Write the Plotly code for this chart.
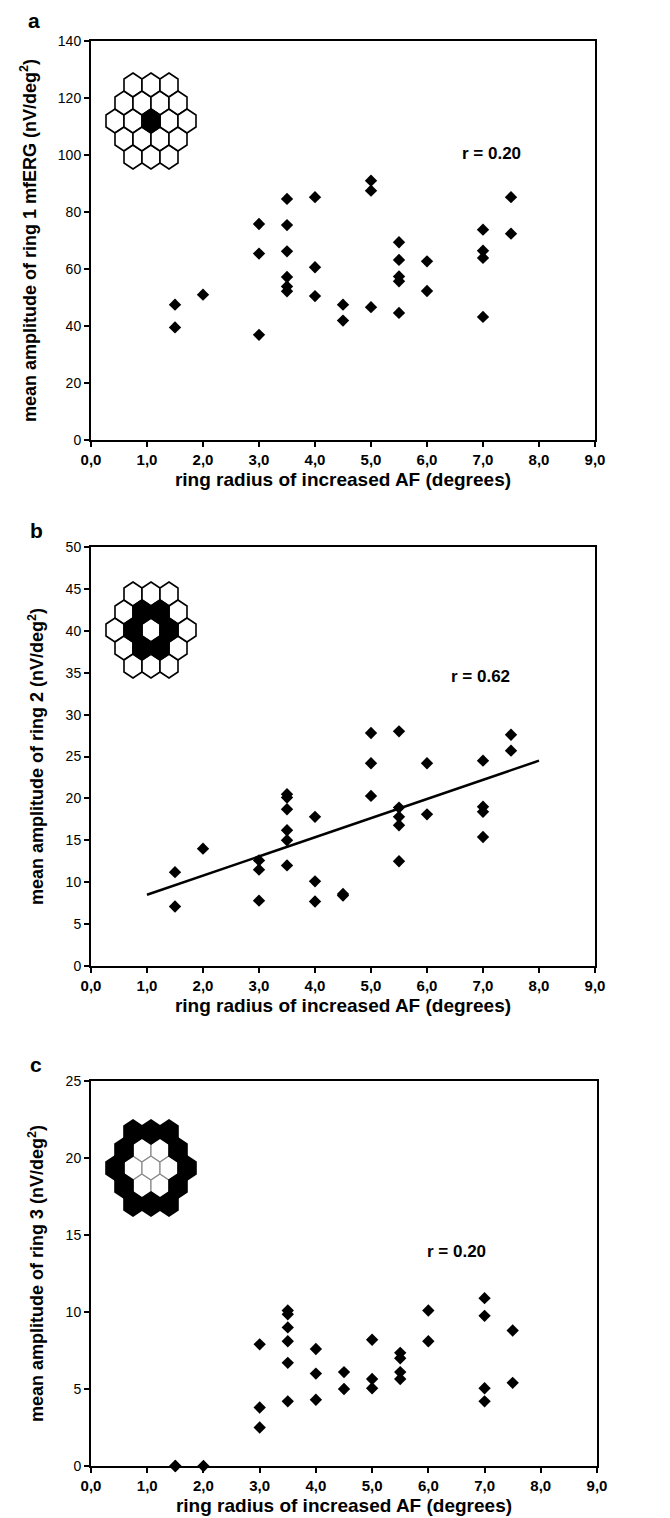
import plotly.graph_objects as go

# ---------------- data ----------------
x_a = [1.5, 1.5, 2.0, 3.0, 3.0, 3.0, 3.5, 3.5, 3.5, 3.5, 3.5, 3.5, 4.0, 4.0, 4.0,
       4.5, 4.5, 5.0, 5.0, 5.0, 5.5, 5.5, 5.5, 5.5, 5.5, 6.0, 6.0, 7.0, 7.0, 7.0, 7.0, 7.5, 7.5]
y_a = [47.5, 39.5, 51.0, 75.8, 65.4, 36.9, 84.6, 75.4, 66.2, 57.2, 53.9, 52.2, 85.2, 60.6, 50.5,
       47.5, 41.9, 91.0, 87.5, 46.6, 69.4, 63.2, 57.4, 55.7, 44.6, 62.7, 52.3, 73.8, 66.4, 63.9, 43.2, 85.2, 72.4]

x_b = [1.5, 1.5, 2.0, 3.0, 3.0, 3.0, 3.5, 3.5, 3.5, 3.5, 3.5, 3.5, 4.0, 4.0, 4.0,
       4.5, 4.5, 5.0, 5.0, 5.0, 5.5, 5.5, 5.5, 5.5, 5.5, 6.0, 6.0, 7.0, 7.0, 7.0, 7.0, 7.5, 7.5]
y_b = [11.2, 7.1, 14.0, 12.6, 11.5, 7.8, 20.5, 20.1, 18.7, 16.2, 15.0, 12.0, 17.8, 10.1, 7.7,
       8.6, 8.4, 27.8, 24.2, 20.3, 28.0, 18.9, 17.8, 16.8, 12.5, 24.2, 18.1, 24.5, 19.0, 18.4, 15.4, 27.6, 25.7]
fit_x_b = [1.0, 8.0]
fit_y_b = [8.5, 24.5]

x_c = [1.5, 1.5, 2.0, 3.0, 3.0, 3.0, 3.5, 3.5, 3.5, 3.5, 3.5, 3.5, 4.0, 4.0, 4.0,
       4.5, 4.5, 5.0, 5.0, 5.0, 5.5, 5.5, 5.5, 5.5, 6.0, 6.0, 7.0, 7.0, 7.0, 7.0, 7.5, 7.5]
y_c = [0.0, 0.0, 0.0, 7.9, 3.8, 2.5, 10.1, 9.85, 9.0, 8.1, 6.7, 4.2, 7.6, 6.0, 4.3,
       6.1, 5.0, 8.2, 5.65, 5.05, 7.35, 7.0, 6.1, 5.65, 10.1, 8.1, 10.9, 9.75, 5.05, 4.2, 8.8, 5.4]

r_labels = ["r = 0.20", "r = 0.62", "r = 0.20"]
r_pos_x = [7.15, 6.95, 6.5]
r_pos_y = [100.5, 34.6, 13.9]
panel_letters = ["a", "b", "c"]
y_titles = ["mean amplitude of ring 1 mfERG (nV/deg<sup>2</sup>)",
            "mean amplitude of ring 2 (nV/deg<sup>2</sup>)",
            "mean amplitude of ring 3 (nV/deg<sup>2</sup>)"]
x_title = "ring radius of increased AF (degrees)"
y_ranges = [[0, 140], [0, 50], [0, 25]]
y_dticks = [20, 5, 5]

# ---------------- layout geometry (pixels) ----------------
W, H = 670, 1518
panels_px = [  # left, right, top, bottom
    (83, 587, 33, 432),
    (83, 587, 539, 958),
    (83, 589, 1073, 1458),
]
icon_centers = [(143, 113), (143, 622), (143, 1160)]
black_ring = [0, 1, 2]
letter_pos = [(26, 13), (28, 522), (28, 1056)]

FONT = "Liberation Sans, Arial, sans-serif"

def px(x):
    return x / W

def py(y):
    return 1 - y / H

fig = go.Figure()
xs = [x_a, x_b, x_c]
ys = [y_a, y_b, y_c]

for i in range(3):
    ax = "" if i == 0 else str(i + 1)
    fig.add_trace(go.Scatter(
        x=xs[i], y=ys[i], mode="markers",
        marker=dict(symbol="diamond", size=9.5, color="black"),
        cliponaxis=False, showlegend=False,
        xaxis="x" + ax, yaxis="y" + ax))

fig.add_trace(go.Scatter(x=fit_x_b, y=fit_y_b, mode="lines",
                         line=dict(color="black", width=2.5),
                         showlegend=False, xaxis="x2", yaxis="y2"))

layout = dict(width=W, height=H, margin=dict(l=0, r=0, t=0, b=0, autoexpand=False),
              paper_bgcolor="white", plot_bgcolor="white",
              separators=",.", showlegend=False,
              font=dict(family=FONT, color="black"))

annotations = []
shapes = []
for i in range(3):
    l, r, t, b = panels_px[i]
    xk = "xaxis" if i == 0 else "xaxis%d" % (i + 1)
    yk = "yaxis" if i == 0 else "yaxis%d" % (i + 1)
    ax = "" if i == 0 else str(i + 1)
    layout[xk] = dict(domain=[px(l), px(r)], range=[0, 9], dtick=1, tick0=0,
                      tickformat=".1f", showgrid=False, zeroline=False, automargin=False,
                      showline=True, linecolor="black", linewidth=2, mirror=True,
                      ticks="outside", ticklen=5, tickwidth=1.5, tickcolor="black",
                      tickfont=dict(size=15, family=FONT, weight="bold"),
                      title=dict(text=x_title, font=dict(size=19, family=FONT, weight="bold"),
                                 standoff=6),
                      anchor="y" + ax, fixedrange=True)
    layout[yk] = dict(domain=[py(b), py(t)], range=y_ranges[i], dtick=y_dticks[i], tick0=0,
                      showgrid=False, zeroline=False, automargin=False,
                      showline=True, linecolor="black", linewidth=2, mirror=True,
                      ticks="outside", ticklen=5, tickwidth=1.5, tickcolor="black",
                      tickfont=dict(size=14, family=FONT),
                      title=dict(text=y_titles[i], font=dict(size=18, family=FONT, weight="bold"),
                                 standoff=17),
                      anchor="x" + ax, fixedrange=True)
    annotations.append(dict(text="<b>%s</b>" % r_labels[i], x=r_pos_x[i], y=r_pos_y[i],
                            xref="x" + ax, yref="y" + ax, showarrow=False,
                            xanchor="center", yanchor="middle",
                            font=dict(size=17, family=FONT, color="black")))
    lx, ly = letter_pos[i]
    annotations.append(dict(text="<b>%s</b>" % panel_letters[i], x=px(lx), y=py(ly),
                            xref="paper", yref="paper", showarrow=False,
                            xanchor="center", yanchor="middle",
                            font=dict(size=21, family=FONT, color="black")))

    # hexagonal mfERG stimulus icon
    cx, cy = icon_centers[i]
    hw = 18.0  # flat-to-flat width
    s = 12.0   # vertex radius
    cells = []
    for q in range(-2, 3):
        for rr in range(-2, 3):
            if abs(q + rr) > 2:
                continue
            ring = max(abs(q), abs(rr), abs(q + rr))
            hx = cx + hw * (q + rr / 2)
            hy = cy + 1.5 * s * rr
            cells.append((ring, hx, hy))
    cells.sort(key=lambda c: c[0] == black_ring[i])
    for ring, hx, hy in cells:
        pts = [(hx, hy - s), (hx + hw / 2, hy - s / 2), (hx + hw / 2, hy + s / 2),
               (hx, hy + s), (hx - hw / 2, hy + s / 2), (hx - hw / 2, hy - s / 2)]
        path = "M " + " L ".join("%.5f,%.5f" % (px(a), py(c)) for a, c in pts) + " Z"
        is_black = ring == black_ring[i]
        if i == 2 and not is_black:
            lc, lw = "#8a8a8a", 1.2
        else:
            lc, lw = "black", 1.6
        shapes.append(dict(type="path", path=path, xref="paper", yref="paper",
                           fillcolor="black" if is_black else "white",
                           line=dict(color=lc, width=lw), layer="above"))

layout["annotations"] = annotations
layout["shapes"] = shapes
fig.update_layout(**layout)
fig.write_html("out.html")
